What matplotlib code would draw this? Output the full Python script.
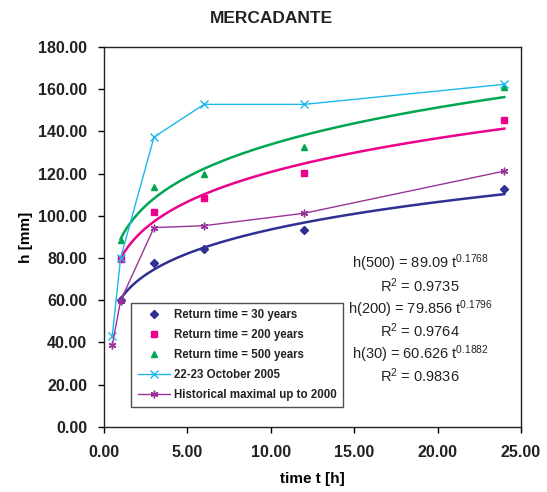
import numpy as np
import matplotlib.pyplot as plt

plt.rcParams['font.family'] = ['Liberation Sans', 'DejaVu Sans']
plt.rcParams['mathtext.fontset'] = 'custom'
plt.rcParams['mathtext.rm'] = 'Liberation Sans'
plt.rcParams['mathtext.it'] = 'Liberation Sans'
plt.rcParams['text.color'] = '#222222'

# durations [h]
t_pts = [1, 3, 6, 12, 24]
t_obs = [0.5, 1, 3, 6, 12, 24]

# design rainfall depths [mm]
h30 = [60.0, 77.8, 84.1, 93.5, 112.7]
h200 = [79.5, 102.0, 108.4, 120.1, 145.4]
h500 = [88.5, 113.6, 120.0, 132.5, 161.2]

# observed events [mm]
oct2005 = [43.2, 80.0, 137.3, 152.8, 152.8, 162.3]
hist_max = [38.8, 59.8, 94.4, 95.3, 101.2, 121.2]

# power-law fits h = a * t^n
fit_500 = (89.09, 0.1768)
fit_200 = (79.856, 0.1796)
fit_30 = (60.626, 0.1882)

c30 = '#2E3192'
c200 = '#EC008C'
c500 = '#00A651'
c_oct = '#1CB8EC'
c_hist = '#993399'

fig = plt.figure(figsize=(5.47, 4.92), dpi=100)
ax = fig.add_axes([0.190, 0.1325, 0.7625, 0.772])

tt = np.linspace(1, 24, 200)
for (a, n), c in [(fit_30, c30), (fit_200, c200), (fit_500, c500)]:
    ax.plot(tt, a * tt ** n, color=c, lw=1.8, zorder=2)

ax.plot(t_pts, h30, 'D', color=c30, ms=3.8, ls='none', label='Return time = 30 years', zorder=3)
ax.plot(t_pts, h200, 's', color=c200, ms=4.5, ls='none', label='Return time = 200 years', zorder=3)
ax.plot(t_pts, h500, '^', color=c500, ms=3.8, ls='none', label='Return time = 500 years', zorder=3)
ax.plot(t_obs, oct2005, color=c_oct, lw=1.0, marker='x', ms=5.5, mew=1.0,
        label='22-23 October 2005', zorder=3)
ax.plot(t_obs, hist_max, color=c_hist, lw=1.0, marker=(6, 2, 0), ms=5.5, mew=1.0,
        label='Historical maximal up to 2000', zorder=3)

ax.set_xlim(0, 25)
ax.set_ylim(0, 180)
ax.set_xticks(np.arange(0, 26, 5))
ax.set_yticks(np.arange(0, 181, 20))
ax.set_xticklabels([f'{v:.2f}' for v in np.arange(0, 26, 5)])
ax.set_yticklabels([f'{v:.2f}' for v in np.arange(0, 181, 20)])
ax.tick_params(axis='both', direction='out', length=4, width=1, labelsize=11.5,
               labelcolor='#222222', top=False, right=False)
ax.tick_params(axis='x', pad=9)
ax.tick_params(axis='y', pad=8)
for lab in ax.get_xticklabels() + ax.get_yticklabels():
    lab.set_fontweight('bold')
for s in ax.spines.values():
    s.set_linewidth(1.0)
    s.set_color('#222222')

ax.set_xlabel('time t [h]', fontsize=11, fontweight='bold', labelpad=9)
ax.set_ylabel('h [mm]', fontsize=11, fontweight='bold', labelpad=4)
fig.text(0.496, 0.963, 'MERCADANTE', ha='center', va='center', fontsize=12.5, fontweight='bold')

leg = ax.legend(loc='upper left', bbox_to_anchor=(0.066, 0.326), borderaxespad=0,
                prop={'weight': 'bold', 'size': 8.3}, frameon=True, fancybox=False,
                borderpad=0.55, labelspacing=0.68, handlelength=2.8, handletextpad=0.3)
leg.get_frame().set_edgecolor('#222222')
leg.get_frame().set_linewidth(1.0)

eqs = [
    r'h(500) = 89.09 t$^{0.1768}$', r'R$^2$ = 0.9735',
    r'h(200) = 79.856 t$^{0.1796}$', r'R$^2$ = 0.9764',
    r'h(30) = 60.626 t$^{0.1882}$', r'R$^2$ = 0.9836',
]
ys = [263, 286, 309, 331, 354, 376]
for txt, y in zip(eqs, ys):
    fig.text(420 / 547, 1 - y / 492, txt, ha='center', va='center', fontsize=10.5)

fig.savefig('out.png', dpi=100)
